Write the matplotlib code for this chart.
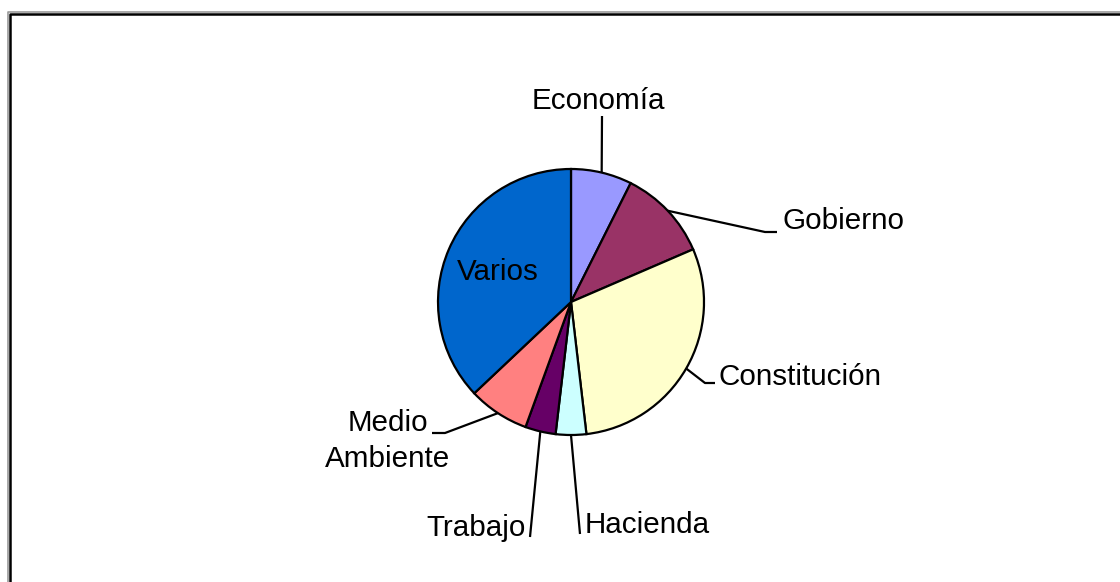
import numpy as np
import matplotlib
matplotlib.use("Agg")
import matplotlib.pyplot as plt
from matplotlib.lines import Line2D

# ---- data ----
categories = ["Economía", "Gobierno", "Constitución", "Hacienda", "Trabajo",
              "Medio\nAmbiente", "Varios"]
values = [2, 3, 8, 1, 1, 2, 10]
colors = ["#9999FF", "#993366", "#FFFFCC", "#CCFFFF", "#660066", "#FF8080", "#0066CC"]

W, H = 1120, 582
fig = plt.figure(figsize=(W / 100, H / 100), dpi=100)
ax = fig.add_axes([0, 0, 1, 1])

def fy(y):
    return H - y

cx, cy, R = 571, fy(302), 133
wedges, _ = ax.pie(values, colors=colors, startangle=90, counterclock=False,
                   center=(cx, cy), radius=R,
                   wedgeprops=dict(edgecolor="black", linewidth=1.6))

ax.set_xlim(0, W)
ax.set_ylim(0, H)
ax.set_aspect("equal")
ax.axis("off")

font = dict(family=["Liberation Sans", "DejaVu Sans"], fontsize=21.3, color="black")

# leader-line layout: (elbow point, end point, text pos, ha)
layout = [
    ((602, 116), None, (598, 101), "center"),
    ((765, 232), (777, 232), (782, 221), "left"),
    ((705, 383), (715, 383), (719, 377), "left"),
    ((580, 534), None, (585, 525), "left"),
    ((530, 537), None, (526, 528), "right"),
    ((445, 433), (432, 433), (388, 441), "center"),
    (None, None, (498, 272), "center"),
]

for w, lab, (elbow, end, tpos, ha) in zip(wedges, categories, layout):
    mid = np.deg2rad((w.theta1 + w.theta2) / 2)
    sx, sy = cx + R * np.cos(mid), cy + R * np.sin(mid)
    if elbow is not None:
        xs = [sx, elbow[0]]
        ys = [sy, fy(elbow[1])]
        if end is not None:
            xs.append(end[0])
            ys.append(fy(end[1]))
        ax.add_line(Line2D(xs, ys, color="black", linewidth=1.6,
                           solid_capstyle="butt", zorder=3))
    ax.text(tpos[0], fy(tpos[1]), lab, ha=ha, va="center",
            multialignment="center", linespacing=1.38, **font)

# chart frame (only top/left visible in the crop)
ax.add_line(Line2D([8, 8, W + 5], [-5, fy(12), fy(12)], color="#9a9a9a",
                   linewidth=1.2, zorder=4))
ax.add_line(Line2D([9.7, 9.7, W + 5], [-5, fy(14), fy(14)], color="black",
                   linewidth=1.8, zorder=5))

fig.savefig("out.png", dpi=100)
